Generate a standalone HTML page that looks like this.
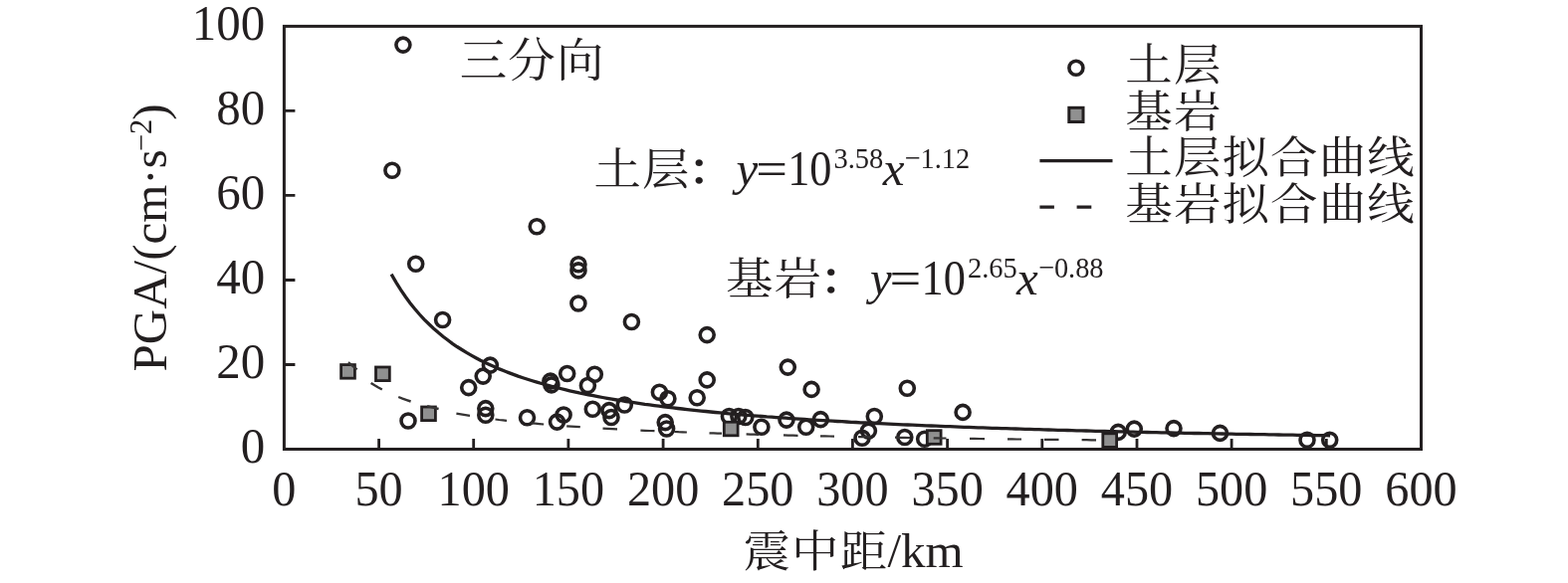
<!DOCTYPE html>
<html lang="zh"><head><meta charset="utf-8"><title>PGA</title>
<style>html,body{margin:0;padding:0;background:#fff}svg{display:block}text{font-family:"Liberation Serif", "Noto Serif CJK SC", serif;font-size:49px;fill:#231f20}.c{font-size:47.5px;letter-spacing:1.1px}.i{font-style:italic}.s{font-size:28.5px}</style></head><body>
<svg width="1575" height="586" viewBox="0 0 1575 586">
<rect width="1575" height="586" fill="#fff"/>
<rect x="285.4" y="26.4" width="1142.1" height="425.1" fill="none" stroke="#231f20" stroke-width="3"/>
<path d="M380.6 451.5 v-10.5 M475.7 451.5 v-10.5 M570.9 451.5 v-10.5 M666.1 451.5 v-10.5 M761.3 451.5 v-10.5 M856.4 451.5 v-10.5 M951.6 451.5 v-10.5 M1046.8 451.5 v-10.5 M1142.0 451.5 v-10.5 M1237.1 451.5 v-10.5 M1332.3 451.5 v-10.5 M285.4 366.5 h11 M285.4 281.5 h11 M285.4 196.4 h11 M285.4 111.4 h11" stroke="#231f20" stroke-width="2.8" fill="none"/>
<text transform="translate(285.4 507.5) scale(0.985 1.035)" text-anchor="middle">0</text>
<text transform="translate(380.6 507.5) scale(0.985 1.035)" text-anchor="middle">50</text>
<text transform="translate(475.7 507.5) scale(0.985 1.035)" text-anchor="middle">100</text>
<text transform="translate(570.9 507.5) scale(0.985 1.035)" text-anchor="middle">150</text>
<text transform="translate(666.1 507.5) scale(0.985 1.035)" text-anchor="middle">200</text>
<text transform="translate(761.3 507.5) scale(0.985 1.035)" text-anchor="middle">250</text>
<text transform="translate(856.4 507.5) scale(0.985 1.035)" text-anchor="middle">300</text>
<text transform="translate(951.6 507.5) scale(0.985 1.035)" text-anchor="middle">350</text>
<text transform="translate(1046.8 507.5) scale(0.985 1.035)" text-anchor="middle">400</text>
<text transform="translate(1142.0 507.5) scale(0.985 1.035)" text-anchor="middle">450</text>
<text transform="translate(1237.1 507.5) scale(0.985 1.035)" text-anchor="middle">500</text>
<text transform="translate(1332.3 507.5) scale(0.985 1.035)" text-anchor="middle">550</text>
<text transform="translate(1427.5 507.5) scale(0.985 1.035)" text-anchor="middle">600</text>
<text transform="translate(266.2 465.3) scale(1 1.035)" text-anchor="end">0</text>
<text transform="translate(266.2 380.3) scale(1 1.035)" text-anchor="end">20</text>
<text transform="translate(266.2 295.3) scale(1 1.035)" text-anchor="end">40</text>
<text transform="translate(266.2 210.2) scale(1 1.035)" text-anchor="end">60</text>
<text transform="translate(266.2 125.2) scale(1 1.035)" text-anchor="end">80</text>
<text transform="translate(266.2 40.2) scale(1 1.035)" text-anchor="end">100</text>
<text transform="translate(746.5 570.0) scale(1 0.935)" class="c">震中距</text>
<text transform="translate(891.5 570.0)">/km</text>
<text transform="translate(167.3 373.5) rotate(-90)">PGA/(cm·s<tspan class="s" dx="-2" dy="-15.5" style="font-size:30.5px">−2</tspan><tspan dx="-0.8" dy="15.5">)</tspan></text>
<path d="M393.1 275.6 L397.9 283.8 L402.6 291.4 L407.3 298.3 L412.0 304.7 L416.7 310.5 L421.4 316.0 L426.1 321.1 L430.9 325.8 L435.6 330.2 L440.3 334.3 L445.0 338.2 L449.7 341.8 L454.4 345.3 L459.1 348.5 L463.9 351.5 L468.6 354.4 L473.3 357.1 L478.0 359.7 L482.7 362.2 L487.4 364.5 L492.2 366.7 L496.9 368.8 L501.6 370.9 L506.3 372.8 L511.0 374.6 L515.7 376.4 L520.4 378.1 L525.2 379.7 L529.9 381.2 L534.6 382.7 L539.3 384.1 L544.0 385.5 L548.7 386.8 L553.4 388.1 L558.2 389.3 L562.9 390.5 L567.6 391.7 L572.3 392.8 L577.0 393.8 L581.7 394.9 L586.5 395.8 L591.2 396.8 L595.9 397.7 L600.6 398.6 L605.3 399.5 L610.0 400.4 L614.7 401.2 L619.5 402.0 L624.2 402.7 L628.9 403.5 L633.6 404.2 L638.3 404.9 L643.0 405.6 L647.7 406.3 L652.5 406.9 L657.2 407.6 L661.9 408.2 L666.6 408.8 L671.3 409.4 L676.0 409.9 L680.8 410.5 L685.5 411.0 L690.2 411.6 L694.9 412.1 L699.6 412.6 L704.3 413.1 L709.0 413.5 L713.8 414.0 L718.5 414.5 L723.2 414.9 L727.9 415.3 L732.6 415.8 L737.3 416.2 L742.0 416.6 L746.8 417.0 L751.5 417.4 L756.2 417.8 L760.9 418.1 L765.6 418.5 L770.3 418.9 L775.1 419.2 L779.8 419.6 L784.5 419.9 L789.2 420.2 L793.9 420.6 L798.6 420.9 L803.3 421.2 L808.1 421.5 L812.8 421.8 L817.5 422.1 L822.2 422.4 L826.9 422.7 L831.6 422.9 L836.3 423.2 L841.1 423.5 L845.8 423.7 L850.5 424.0 L855.2 424.3 L859.9 424.5 L864.6 424.8 L869.4 425.0 L874.1 425.2 L878.8 425.5 L883.5 425.7 L888.2 425.9 L892.9 426.1 L897.6 426.4 L902.4 426.6 L907.1 426.8 L911.8 427.0 L916.5 427.2 L921.2 427.4 L925.9 427.6 L930.6 427.8 L935.4 428.0 L940.1 428.2 L944.8 428.4 L949.5 428.6 L954.2 428.7 L958.9 428.9 L963.6 429.1 L968.4 429.3 L973.1 429.4 L977.8 429.6 L982.5 429.8 L987.2 429.9 L991.9 430.1 L996.7 430.3 L1001.4 430.4 L1006.1 430.6 L1010.8 430.7 L1015.5 430.9 L1020.2 431.0 L1024.9 431.2 L1029.7 431.3 L1034.4 431.4 L1039.1 431.6 L1043.8 431.7 L1048.5 431.9 L1053.2 432.0 L1057.9 432.1 L1062.7 432.3 L1067.4 432.4 L1072.1 432.5 L1076.8 432.6 L1081.5 432.8 L1086.2 432.9 L1091.0 433.0 L1095.7 433.1 L1100.4 433.3 L1105.1 433.4 L1109.8 433.5 L1114.5 433.6 L1119.2 433.7 L1124.0 433.8 L1128.7 433.9 L1133.4 434.1 L1138.1 434.2 L1142.8 434.3 L1147.5 434.4 L1152.2 434.5 L1157.0 434.6 L1161.7 434.7 L1166.4 434.8 L1171.1 434.9 L1175.8 435.0 L1180.5 435.1 L1185.3 435.2 L1190.0 435.3 L1194.7 435.4 L1199.4 435.5 L1204.1 435.5 L1208.8 435.6 L1213.5 435.7 L1218.3 435.8 L1223.0 435.9 L1227.7 436.0 L1232.4 436.1 L1237.1 436.2 L1241.8 436.3 L1246.5 436.3 L1251.3 436.4 L1256.0 436.5 L1260.7 436.6 L1265.4 436.7 L1270.1 436.7 L1274.8 436.8 L1279.6 436.9 L1284.3 437.0 L1289.0 437.1 L1293.7 437.1 L1298.4 437.2 L1303.1 437.3 L1307.8 437.3 L1312.6 437.4 L1317.3 437.5 L1322.0 437.6 L1326.7 437.6 L1331.4 437.7 L1336.1 437.8" fill="none" stroke="#231f20" stroke-width="3.3"/>
<g fill="none" stroke="#231f20" stroke-width="3.6">
<circle cx="404.9" cy="45.1" r="7"/>
<circle cx="393.9" cy="171.3" r="7"/>
<circle cx="417.7" cy="265.2" r="7"/>
<circle cx="444.6" cy="321.5" r="7"/>
<circle cx="539.2" cy="227.8" r="7"/>
<circle cx="581.0" cy="265.7" r="7"/>
<circle cx="581.0" cy="271.9" r="7"/>
<circle cx="580.9" cy="305.0" r="7"/>
<circle cx="634.4" cy="323.5" r="7"/>
<circle cx="710.2" cy="336.6" r="7"/>
<circle cx="710.2" cy="381.9" r="7"/>
<circle cx="791.3" cy="369.1" r="7"/>
<circle cx="815.1" cy="391.4" r="7"/>
<circle cx="911.3" cy="390.3" r="7"/>
<circle cx="967.1" cy="414.4" r="7"/>
<circle cx="410.0" cy="423.0" r="7"/>
<circle cx="470.7" cy="389.6" r="7"/>
<circle cx="485.2" cy="378.1" r="7"/>
<circle cx="492.4" cy="367.1" r="7"/>
<circle cx="487.8" cy="410.6" r="7"/>
<circle cx="487.8" cy="417.2" r="7"/>
<circle cx="529.5" cy="419.8" r="7"/>
<circle cx="566.1" cy="417.0" r="7"/>
<circle cx="559.5" cy="424.1" r="7"/>
<circle cx="552.9" cy="383.1" r="7"/>
<circle cx="553.9" cy="386.9" r="7"/>
<circle cx="569.7" cy="375.5" r="7"/>
<circle cx="597.3" cy="376.3" r="7"/>
<circle cx="590.4" cy="387.5" r="7"/>
<circle cx="595.3" cy="411.3" r="7"/>
<circle cx="611.9" cy="412.6" r="7"/>
<circle cx="614.0" cy="419.5" r="7"/>
<circle cx="627.3" cy="407.0" r="7"/>
<circle cx="662.4" cy="394.3" r="7"/>
<circle cx="670.9" cy="400.7" r="7"/>
<circle cx="668.2" cy="424.6" r="7"/>
<circle cx="669.6" cy="431.0" r="7"/>
<circle cx="700.2" cy="399.8" r="7"/>
<circle cx="732.4" cy="418.5" r="7"/>
<circle cx="741.9" cy="418.5" r="7"/>
<circle cx="748.8" cy="419.5" r="7"/>
<circle cx="764.9" cy="429.2" r="7"/>
<circle cx="790.0" cy="422.1" r="7"/>
<circle cx="809.7" cy="429.2" r="7"/>
<circle cx="824.3" cy="421.6" r="7"/>
<circle cx="872.4" cy="433.1" r="7"/>
<circle cx="866.0" cy="440.2" r="7"/>
<circle cx="878.3" cy="418.5" r="7"/>
<circle cx="908.8" cy="439.5" r="7"/>
<circle cx="928.7" cy="441.3" r="7"/>
<circle cx="1123.2" cy="434.4" r="7"/>
<circle cx="1139.3" cy="431.1" r="7"/>
<circle cx="1179.0" cy="430.6" r="7"/>
<circle cx="1225.5" cy="435.4" r="7"/>
<circle cx="1313.0" cy="442.2" r="7"/>
<circle cx="1335.7" cy="442.2" r="7"/>
</g>
<g fill="#909090" stroke="#231f20" stroke-width="2.8">
<rect x="342.6" y="366.6" width="13.8" height="13.6"/>
<rect x="377.5" y="369.0" width="13.8" height="13.6"/>
<rect x="423.6" y="409.0" width="13.8" height="13.6"/>
<rect x="727.3" y="424.2" width="13.8" height="13.6"/>
<rect x="931.3" y="432.7" width="13.8" height="13.6"/>
<rect x="1107.8" y="435.8" width="13.8" height="13.6"/>
</g>
<path d="M349.8 364.3L358.6 371.4" fill="none" stroke="#353333" stroke-width="2.4"/>
<path d="M372.6 385.9 L376.3 388.3 L380.1 390.5 L383.8 392.5" fill="none" stroke="#353333" stroke-width="2.4" transform="translate(0 -1)"/>
<path d="M400.2 400.0 L404.3 401.6 L408.5 403.1 L412.6 404.5" fill="none" stroke="#353333" stroke-width="2.4" transform="translate(0 -1)"/>
<path d="M429.1 409.2 L432.9 410.2 L436.8 411.1 L440.6 412.0" fill="none" stroke="#353333" stroke-width="2.4" transform="translate(0 -1)"/>
<path d="M458.4 415.6 L462.9 416.4 L467.5 417.2 L472.0 417.9" fill="none" stroke="#353333" stroke-width="2.2"/>
<path d="M497.5 421.5 L501.3 422.0 L505.2 422.4 L509.0 422.9" fill="none" stroke="#353333" stroke-width="2.2"/>
<path d="M533.4 425.4 L537.7 425.7 L541.9 426.1 L546.2 426.5" fill="none" stroke="#353333" stroke-width="2.2"/>
<path d="M569.2 428.3 L573.7 428.6 L578.3 428.9 L582.8 429.2" fill="none" stroke="#353333" stroke-width="2.2"/>
<path d="M605.5 430.6 L610.3 430.9 L615.2 431.2 L620.0 431.4" fill="none" stroke="#353333" stroke-width="2.2"/>
<path d="M643.4 432.6 L648.1 432.8 L652.8 433.0 L657.5 433.2" fill="none" stroke="#353333" stroke-width="2.2"/>
<path d="M677.4 434.0 L681.6 434.2 L685.7 434.3 L689.9 434.5" fill="none" stroke="#353333" stroke-width="2.2"/>
<path d="M712.5 435.3 L716.7 435.4 L720.8 435.6 L725.0 435.7" fill="none" stroke="#353333" stroke-width="2.2"/>
<path d="M749.6 436.4 L753.7 436.6 L757.9 436.7 L762.0 436.8" fill="none" stroke="#353333" stroke-width="2.2"/>
<path d="M787.0 437.4 L791.8 437.6 L796.7 437.7 L801.5 437.8" fill="none" stroke="#353333" stroke-width="2.2"/>
<path d="M824.0 438.3 L828.7 438.4 L833.3 438.5 L838.0 438.6" fill="none" stroke="#353333" stroke-width="2.2"/>
<path d="M862.0 439.1 L866.2 439.1 L870.3 439.2 L874.5 439.3" fill="none" stroke="#353333" stroke-width="2.2"/>
<path d="M899.0 439.7 L904.0 439.8 L909.0 439.9 L914.0 440.0" fill="none" stroke="#353333" stroke-width="2.2"/>
<path d="M937.7 440.3 L942.0 440.4 L946.2 440.5 L950.5 440.5" fill="none" stroke="#353333" stroke-width="2.2"/>
<path d="M974.0 440.9 L979.0 440.9 L984.0 441.0 L989.0 441.1" fill="none" stroke="#353333" stroke-width="2.2"/>
<path d="M1012.0 441.3 L1016.7 441.4 L1021.3 441.5 L1026.0 441.5" fill="none" stroke="#353333" stroke-width="2.2"/>
<path d="M1049.0 441.8 L1053.8 441.8 L1058.7 441.9 L1063.5 441.9" fill="none" stroke="#353333" stroke-width="2.2"/>
<path d="M1086.6 442.2 L1091.4 442.2 L1096.2 442.3 L1101.0 442.3" fill="none" stroke="#353333" stroke-width="2.2"/>
<text transform="translate(461.7 76.5) scale(1 0.975)" class="c">三分向</text>
<text transform="translate(596.5 186.3) scale(1 0.935)" class="c">土层</text>
<text transform="translate(690.3 186.3) scale(1 0.935)" class="c" font-weight="600">：</text>
<text transform="translate(739.6 186.3)" class="i">y</text>
<text transform="translate(759.2 186.3) scale(1.15 1)">=</text>
<text transform="translate(791.2 186.3) scale(0.905 1.035)">10</text>
<text transform="translate(837.5 169.3) scale(1 1.06)" class="s">3.58</text>
<text transform="translate(886.7 186.3)" class="i">x</text>
<text transform="translate(908.5 169.3) scale(0.995 1.06)" class="s">−1.12</text>
<text transform="translate(729.0 296.3) scale(1 0.935)" class="c">基岩</text>
<text transform="translate(822.8 296.3) scale(1 0.935)" class="c" font-weight="600">：</text>
<text transform="translate(874.0 296.3)" class="i">y</text>
<text transform="translate(893.6 296.3) scale(1.15 1)">=</text>
<text transform="translate(925.6 296.3) scale(0.905 1.035)">10</text>
<text transform="translate(971.9 279.3) scale(1 1.06)" class="s">2.65</text>
<text transform="translate(1021.1 296.3)" class="i">x</text>
<text transform="translate(1042.9 279.3) scale(0.995 1.06)" class="s">−0.88</text>
<circle cx="1080.9" cy="68.3" r="7" fill="none" stroke="#231f20" stroke-width="3.6"/>
<rect x="1073.8" y="108.3" width="14.2" height="14.2" fill="#909090" stroke="#231f20" stroke-width="3"/>
<path d="M1044.4 161.6H1117.5" stroke="#231f20" stroke-width="3.4" fill="none"/>
<path d="M1044.4 208.2h14.5M1081.6 208.2h14.7" stroke="#231f20" stroke-width="3.2" fill="none"/>
<text transform="translate(1130.3 81.0) scale(1 0.935)" class="c">土层</text>
<text transform="translate(1130.3 127.5) scale(1 0.935)" class="c">基岩</text>
<text transform="translate(1130.3 174.0) scale(1 0.935)" class="c">土层拟合曲线</text>
<text transform="translate(1130.3 220.5) scale(1 0.935)" class="c">基岩拟合曲线</text>
</svg></body></html>
